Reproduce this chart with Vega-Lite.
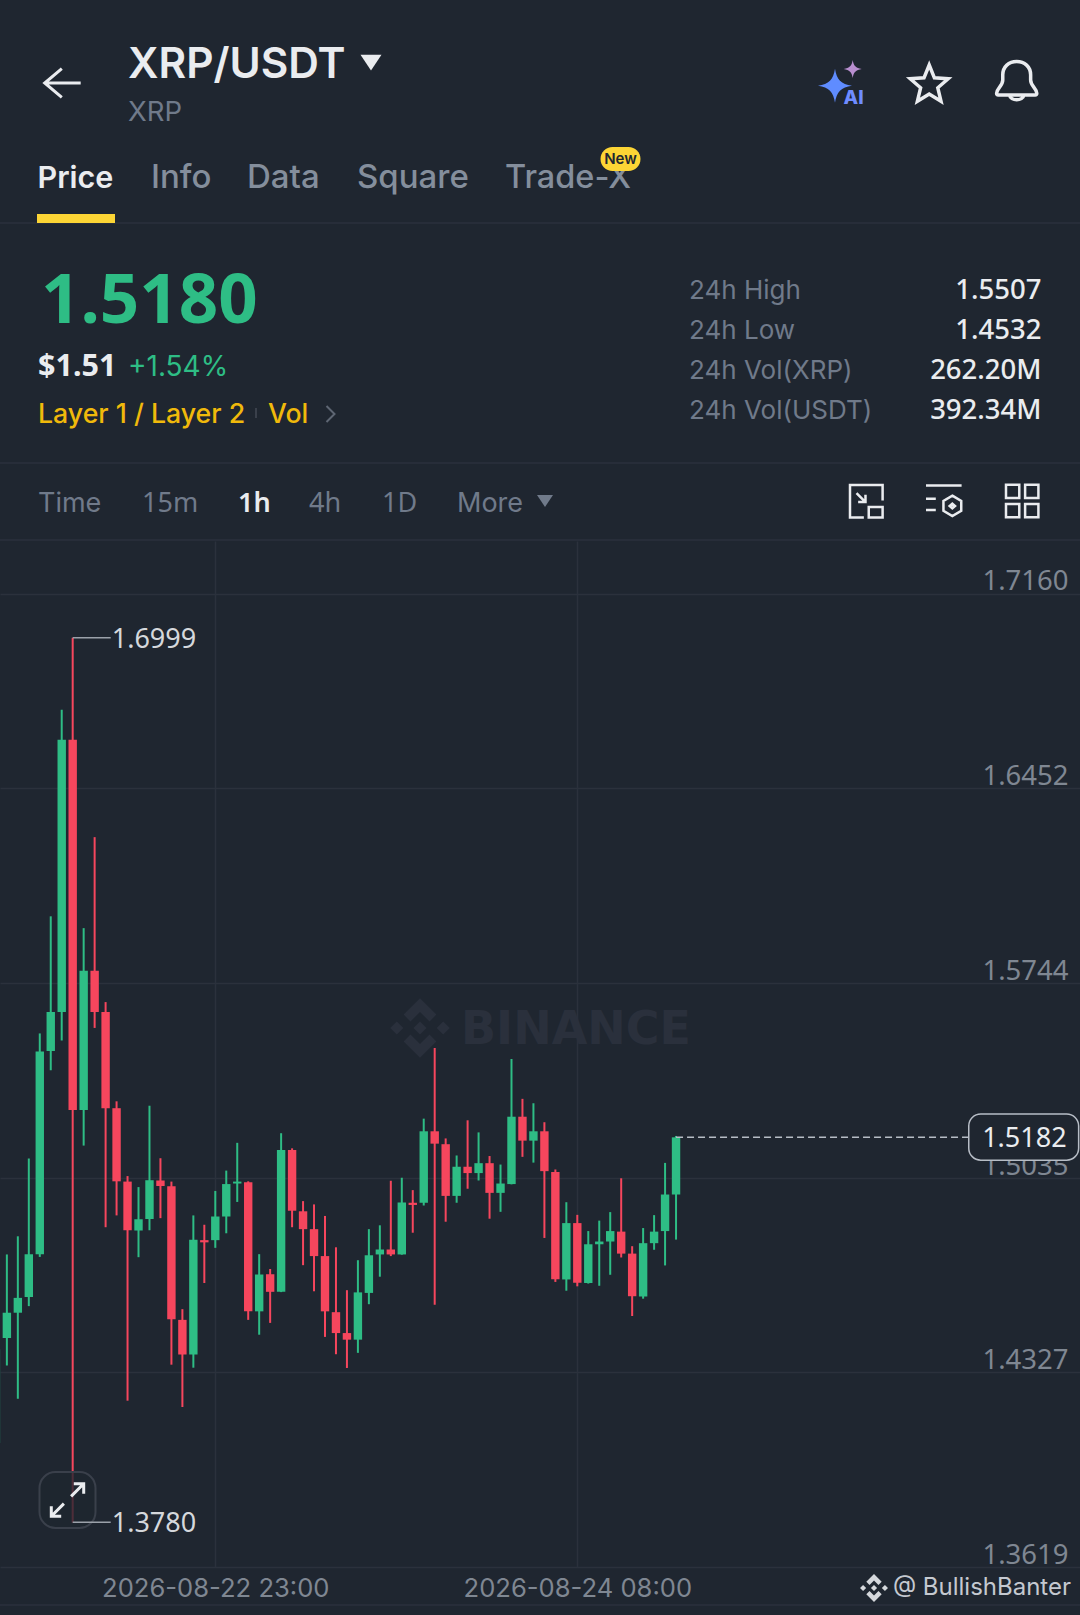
{
"$schema":"https://vega.github.io/schema/vega-lite/v6.json",
"width":1080,"height":1026,"autosize":"none","padding":{"top":541,"bottom":48,"left":0,"right":0},
"background":"#1f2630",
"config":{"view":{"stroke":null},"text":{"font":"Inter","baseline":"alphabetic","align":"left"},"point":{"opacity":1}},
"datasets":{
"candles":[
{"t":"2026-08-22T03:00:00Z","o":1.4069,"c":1.4411,"h":1.4452,"l":1.4069,"d":"up"},
{"t":"2026-08-22T04:00:00Z","o":1.4452,"c":1.4544,"h":1.4756,"l":1.4352,"d":"up"},
{"t":"2026-08-22T05:00:00Z","o":1.4544,"c":1.4598,"h":1.4822,"l":1.4231,"d":"up"},
{"t":"2026-08-22T06:00:00Z","o":1.4601,"c":1.4757,"h":1.5105,"l":1.4568,"d":"up"},
{"t":"2026-08-22T07:00:00Z","o":1.4757,"c":1.5494,"h":1.5560,"l":1.4747,"d":"up"},
{"t":"2026-08-22T08:00:00Z","o":1.5496,"c":1.5638,"h":1.5986,"l":1.5426,"d":"up"},
{"t":"2026-08-22T09:00:00Z","o":1.5638,"c":1.6628,"h":1.6737,"l":1.5534,"d":"up"},
{"t":"2026-08-22T10:00:00Z","o":1.6628,"c":1.5281,"h":1.6999,"l":1.3780,"d":"down"},
{"t":"2026-08-22T11:00:00Z","o":1.5281,"c":1.5788,"h":1.5943,"l":1.5152,"d":"up"},
{"t":"2026-08-22T12:00:00Z","o":1.5788,"c":1.5638,"h":1.6274,"l":1.5580,"d":"down"},
{"t":"2026-08-22T13:00:00Z","o":1.5638,"c":1.5288,"h":1.5674,"l":1.4855,"d":"down"},
{"t":"2026-08-22T14:00:00Z","o":1.5288,"c":1.5022,"h":1.5313,"l":1.4898,"d":"down"},
{"t":"2026-08-22T15:00:00Z","o":1.5021,"c":1.4844,"h":1.5041,"l":1.4224,"d":"down"},
{"t":"2026-08-22T16:00:00Z","o":1.4843,"c":1.4884,"h":1.5001,"l":1.4746,"d":"up"},
{"t":"2026-08-22T17:00:00Z","o":1.4885,"c":1.5026,"h":1.5297,"l":1.4844,"d":"up"},
{"t":"2026-08-22T18:00:00Z","o":1.5025,"c":1.5005,"h":1.5106,"l":1.4888,"d":"down"},
{"t":"2026-08-22T19:00:00Z","o":1.5004,"c":1.4520,"h":1.5021,"l":1.4355,"d":"down"},
{"t":"2026-08-22T20:00:00Z","o":1.4518,"c":1.4392,"h":1.4557,"l":1.4201,"d":"down"},
{"t":"2026-08-22T21:00:00Z","o":1.4392,"c":1.4809,"h":1.4898,"l":1.4344,"d":"up"},
{"t":"2026-08-22T22:00:00Z","o":1.4808,"c":1.4800,"h":1.4864,"l":1.4652,"d":"down"},
{"t":"2026-08-22T23:00:00Z","o":1.4808,"c":1.4894,"h":1.4987,"l":1.4780,"d":"up"},
{"t":"2026-08-23T00:00:00Z","o":1.4894,"c":1.5012,"h":1.5061,"l":1.4833,"d":"up"},
{"t":"2026-08-23T01:00:00Z","o":1.5014,"c":1.5021,"h":1.5162,"l":1.4947,"d":"up"},
{"t":"2026-08-23T02:00:00Z","o":1.5019,"c":1.4549,"h":1.5022,"l":1.4518,"d":"down"},
{"t":"2026-08-23T03:00:00Z","o":1.4549,"c":1.4683,"h":1.4757,"l":1.4464,"d":"up"},
{"t":"2026-08-23T04:00:00Z","o":1.4684,"c":1.4620,"h":1.4703,"l":1.4507,"d":"down"},
{"t":"2026-08-23T05:00:00Z","o":1.4620,"c":1.5136,"h":1.5197,"l":1.4619,"d":"up"},
{"t":"2026-08-23T06:00:00Z","o":1.5136,"c":1.4915,"h":1.5142,"l":1.4855,"d":"down"},
{"t":"2026-08-23T07:00:00Z","o":1.4913,"c":1.4848,"h":1.4950,"l":1.4717,"d":"down"},
{"t":"2026-08-23T08:00:00Z","o":1.4848,"c":1.4750,"h":1.4938,"l":1.4622,"d":"down"},
{"t":"2026-08-23T09:00:00Z","o":1.4750,"c":1.4549,"h":1.4896,"l":1.4456,"d":"down"},
{"t":"2026-08-23T10:00:00Z","o":1.4546,"c":1.4470,"h":1.4782,"l":1.4393,"d":"down"},
{"t":"2026-08-23T11:00:00Z","o":1.4470,"c":1.4446,"h":1.4626,"l":1.4343,"d":"down"},
{"t":"2026-08-23T12:00:00Z","o":1.4446,"c":1.4618,"h":1.4735,"l":1.4398,"d":"up"},
{"t":"2026-08-23T13:00:00Z","o":1.4616,"c":1.4753,"h":1.4848,"l":1.4575,"d":"up"},
{"t":"2026-08-23T14:00:00Z","o":1.4756,"c":1.4774,"h":1.4862,"l":1.4675,"d":"up"},
{"t":"2026-08-23T15:00:00Z","o":1.4774,"c":1.4756,"h":1.5024,"l":1.4750,"d":"down"},
{"t":"2026-08-23T16:00:00Z","o":1.4756,"c":1.4945,"h":1.5035,"l":1.4755,"d":"up"},
{"t":"2026-08-23T17:00:00Z","o":1.4944,"c":1.4936,"h":1.4990,"l":1.4835,"d":"down"},
{"t":"2026-08-23T18:00:00Z","o":1.4944,"c":1.5204,"h":1.5250,"l":1.4934,"d":"up"},
{"t":"2026-08-23T19:00:00Z","o":1.5204,"c":1.5159,"h":1.5507,"l":1.4573,"d":"down"},
{"t":"2026-08-23T20:00:00Z","o":1.5157,"c":1.4969,"h":1.5178,"l":1.4875,"d":"down"},
{"t":"2026-08-23T21:00:00Z","o":1.4969,"c":1.5075,"h":1.5116,"l":1.4944,"d":"up"},
{"t":"2026-08-23T22:00:00Z","o":1.5075,"c":1.5052,"h":1.5244,"l":1.4995,"d":"down"},
{"t":"2026-08-23T23:00:00Z","o":1.5052,"c":1.5088,"h":1.5200,"l":1.5025,"d":"up"},
{"t":"2026-08-24T00:00:00Z","o":1.5088,"c":1.4980,"h":1.5114,"l":1.4886,"d":"down"},
{"t":"2026-08-24T01:00:00Z","o":1.4980,"c":1.5014,"h":1.5083,"l":1.4911,"d":"up"},
{"t":"2026-08-24T02:00:00Z","o":1.5012,"c":1.5257,"h":1.5467,"l":1.5011,"d":"up"},
{"t":"2026-08-24T03:00:00Z","o":1.5257,"c":1.5170,"h":1.5322,"l":1.5111,"d":"down"},
{"t":"2026-08-24T04:00:00Z","o":1.5170,"c":1.5204,"h":1.5306,"l":1.5090,"d":"up"},
{"t":"2026-08-24T05:00:00Z","o":1.5204,"c":1.5059,"h":1.5237,"l":1.4816,"d":"down"},
{"t":"2026-08-24T06:00:00Z","o":1.5056,"c":1.4666,"h":1.5065,"l":1.4656,"d":"down"},
{"t":"2026-08-24T07:00:00Z","o":1.4665,"c":1.4870,"h":1.4946,"l":1.4624,"d":"up"},
{"t":"2026-08-24T08:00:00Z","o":1.4870,"c":1.4653,"h":1.4900,"l":1.4640,"d":"down"},
{"t":"2026-08-24T09:00:00Z","o":1.4652,"c":1.4793,"h":1.4841,"l":1.4650,"d":"up"},
{"t":"2026-08-24T10:00:00Z","o":1.4793,"c":1.4803,"h":1.4879,"l":1.4642,"d":"up"},
{"t":"2026-08-24T11:00:00Z","o":1.4803,"c":1.4841,"h":1.4910,"l":1.4682,"d":"up"},
{"t":"2026-08-24T12:00:00Z","o":1.4839,"c":1.4759,"h":1.5033,"l":1.4745,"d":"down"},
{"t":"2026-08-24T13:00:00Z","o":1.4759,"c":1.4604,"h":1.4786,"l":1.4532,"d":"down"},
{"t":"2026-08-24T14:00:00Z","o":1.4603,"c":1.4797,"h":1.4852,"l":1.4595,"d":"up"},
{"t":"2026-08-24T15:00:00Z","o":1.4797,"c":1.4839,"h":1.4899,"l":1.4773,"d":"up"},
{"t":"2026-08-24T16:00:00Z","o":1.4841,"c":1.4974,"h":1.5089,"l":1.4716,"d":"up"},
{"t":"2026-08-24T17:00:00Z","o":1.4974,"c":1.5182,"h":1.5187,"l":1.4810,"d":"up"}
],
"extremes":[
{"t":"2026-08-22T10:00:00Z","t2":"2026-08-22T13:28:00Z","p":1.6999,"label":"1.6999"},
{"t":"2026-08-22T10:00:00Z","t2":"2026-08-22T13:28:00Z","p":1.3782,"label":"1.3780"}
],
"last":[{"t":"2026-08-24T17:00:00Z","t1":"2026-08-25T19:41:00Z","t2":"2026-08-26T05:42:00Z","p":1.5182,"top":1.5267,"bottom":1.5099,"label":"1.5182"}],
"one":[{"n":1}]
},
"layer":[
{"data":{"name":"one"},"mark":{"type":"rule","color":"#2b313c","strokeWidth":1.5},"encoding":{"y":{"value":-318}}},
{"data":{"name":"one"},"mark":{"type":"rule","color":"#2b313c","strokeWidth":1.5},"encoding":{"y":{"value":-78}}},
{"data":{"name":"one"},"mark":{"type":"rule","color":"#2b313c","strokeWidth":1.5},"encoding":{"y":{"value":-1}}},
{"data":{"name":"one"},"mark":{"type":"rule","color":"#2b313c","strokeWidth":1.5},"encoding":{"y":{"value":1064}}},
{"data":{"values":[{"label":"BINANCE"}]},"mark":{"type":"text","font":"DejaVu Sans","fontWeight":700,"fontSize":46,"color":"#2a303c"},"encoding":{"text":{"field":"label"},"x":{"value":461},"y":{"value":503}}},
{"data":{"name":"one"},"mark":{"type":"point","filled":true,"color":"#2a303c","size":3540,"shape":"M0 -1L0.55 -0.45L0.32 -0.22L0 -0.54L-0.32 -0.22L-0.55 -0.45ZM0 1L0.55 0.45L0.32 0.22L0 0.54L-0.32 0.22L-0.55 0.45ZM0 -0.22L0.22 0L0 0.22L-0.22 0ZM-0.78 -0.22L-0.56 0L-0.78 0.22L-1 0ZM0.78 -0.22L1 0L0.78 0.22L0.56 0Z"},"encoding":{"x":{"value":420},"y":{"value":487}}},
{"data":{"name":"candles"},"mark":{"type":"rule","strokeWidth":2},
 "encoding":{
  "x":{"field":"t","type":"temporal","title":null,"scale":{"type":"utc","nice":false,"padding":0,"domain":[1787368946000,1787723367000]},
   "axis":{"values":[1787439600000,1787558400000],"format":"%Y-%m-%d %H:%M","domain":false,"ticks":false,"grid":true,"gridColor":"#2b313c","gridWidth":1.5,"labelFont":"Inter","labelFontSize":25.6,"labelColor":"#7f8792","labelPadding":21,"labelBaseline":"middle","labelOverlap":false,"labelFlush":false,"labelLimit":400,"title":null}},
  "y":{"field":"l","type":"quantitative","title":null,"scale":{"domain":[1.3619,1.73513],"zero":false,"nice":false},
   "axis":{"orient":"right","values":[1.716,1.6452,1.5744,1.5035,1.4327,1.3619],"format":".4f","domain":false,"ticks":false,"grid":true,"gridColor":"#2b313c","gridWidth":1.5,"labelFont":"Noto Sans","labelFontSize":27.5,"labelColor":"#7f8792","labelAlign":"right","labelPadding":-12,"labelBaseline":"alphabetic","labelOffset":-3.7,"labelOverlap":false,"labelFlush":false,"labelBound":false,"title":null}},
  "y2":{"field":"h"},
  "color":{"field":"d","type":"nominal","legend":null,"scale":{"domain":["up","down"],"range":["#2ebd85","#f6465d"]}}
 }},
{"data":{"name":"candles"},"mark":{"type":"bar","size":8.4,"orient":"vertical"},
 "encoding":{
  "x":{"field":"t","type":"temporal"},
  "y":{"field":"o","type":"quantitative"},"y2":{"field":"c"},
  "color":{"field":"d","type":"nominal","legend":null}
 }},
{"data":{"name":"one"},"mark":{"type":"rect","fill":"#1f2630","fillOpacity":0.78,"stroke":"#3a404b","strokeWidth":2,"cornerRadius":16},"encoding":{"x":{"value":39.5},"x2":{"value":95.5},"y":{"value":931},"y2":{"value":987}}},
{"data":{"name":"one"},"mark":{"type":"point","filled":false,"color":"#eaecef","strokeWidth":3,"size":1296,"shape":"M-0.9 0.9L-0.2 0.2M-0.9 0.35V0.9H-0.35M0.2 -0.2L0.9 -0.9M0.35 -0.9H0.9V-0.35"},"encoding":{"x":{"value":67.5},"y":{"value":959}}},
{"data":{"name":"extremes"},"mark":{"type":"rule","color":"#9ba1aa","strokeWidth":1.5},"encoding":{"x":{"field":"t","type":"temporal"},"x2":{"field":"t2"},"y":{"field":"p","type":"quantitative"}}},
{"data":{"name":"extremes"},"mark":{"type":"text","font":"Noto Sans","color":"#d5d8dc","fontSize":27,"baseline":"middle","dx":1,"dy":2},"encoding":{"x":{"field":"t2","type":"temporal"},"y":{"field":"p","type":"quantitative"},"text":{"field":"label"}}},
{"data":{"name":"last"},"mark":{"type":"rule","color":"#b7bdc6","strokeWidth":1.5,"strokeDash":[7,4]},"encoding":{"x":{"field":"t","type":"temporal"},"x2":{"field":"t1"},"y":{"field":"p","type":"quantitative"}}},
{"data":{"name":"last"},"mark":{"type":"rect","fill":"#1f2630","stroke":"#b7bdc6","strokeWidth":1.5,"cornerRadius":12},"encoding":{"x":{"field":"t1","type":"temporal"},"x2":{"field":"t2"},"y":{"field":"top","type":"quantitative"},"y2":{"field":"bottom"}}},
{"data":{"name":"last"},"mark":{"type":"text","font":"Noto Sans","color":"#eaecef","fontSize":27,"align":"right","baseline":"middle","dx":-12,"dy":2},"encoding":{"x":{"field":"t2","type":"temporal"},"y":{"field":"p","type":"quantitative"},"text":{"field":"label"}}},

{"data":{"name":"one"},"mark":{"type":"point","filled":false,"color":"#eaecef","strokeWidth":3,"size":1296,"shape":"M1 0H-1M-0.05 -0.8L-1 0L-0.05 0.8"},"encoding":{"x":{"value":62.7},"y":{"value":-458}}},
{"data":{"values":[{"label":"XRP/USDT"}]},"mark":{"type":"text","fontSize":42.4,"fontWeight":600,"color":"#eaecef"},"encoding":{"text":{"field":"label"},"x":{"value":128},"y":{"value":-463.5}}},
{"data":{"name":"one"},"mark":{"type":"point","filled":true,"color":"#eaecef","size":441,"shape":"M-1 -0.7H1L0 0.8Z"},"encoding":{"x":{"value":371},"y":{"value":-479}}},
{"data":{"values":[{"label":"XRP"}]},"mark":{"type":"text","fontSize":27.5,"color":"#707a8a"},"encoding":{"text":{"field":"label"},"x":{"value":128},"y":{"value":-420.5}}},
{"data":{"name":"one"},"mark":{"type":"point","filled":true,"color":"#5f8cff","size":1156,"shape":"M0 -1C0.1 -0.35 0.35 -0.1 1 0C0.35 0.1 0.1 0.35 0 1C-0.1 0.35 -0.35 0.1 -1 0C-0.35 -0.1 -0.1 -0.35 0 -1Z"},"encoding":{"x":{"value":835},"y":{"value":-455.3}}},
{"data":{"name":"one"},"mark":{"type":"point","filled":true,"color":"#b98fd0","size":324,"shape":"M0 -1C0.1 -0.35 0.35 -0.1 1 0C0.35 0.1 0.1 0.35 0 1C-0.1 0.35 -0.35 0.1 -1 0C-0.35 -0.1 -0.1 -0.35 0 -1Z"},"encoding":{"x":{"value":852.7},"y":{"value":-472}}},
{"data":{"values":[{"label":"AI"}]},"mark":{"type":"text","fontSize":19,"fontWeight":800,"color":"#6f8cff","align":"center","baseline":"middle"},"encoding":{"text":{"field":"label"},"x":{"value":853.6},"y":{"value":-443}}},
{"data":{"name":"one"},"mark":{"type":"point","filled":false,"color":"#eaecef","strokeWidth":3.5,"size":1600,"shape":"M0 -1L0.26 -0.36L0.95 -0.31L0.43 0.14L0.59 0.81L0 0.45L-0.59 0.81L-0.43 0.14L-0.95 -0.31L-0.26 -0.36Z"},"encoding":{"x":{"value":929.2},"y":{"value":-456}}},
{"data":{"name":"one"},"mark":{"type":"point","filled":false,"color":"#eaecef","strokeWidth":3.5,"size":1681,"shape":"M-0.98 0.6C-0.98 0.35 -0.68 0.25 -0.68 -0.05V-0.3C-0.68 -0.7 -0.38 -0.95 0 -0.95C0.38 -0.95 0.68 -0.7 0.68 -0.3V-0.05C0.68 0.25 0.98 0.35 0.98 0.6Q0.98 0.68 0.9 0.68H-0.9Q-0.98 0.68 -0.98 0.6ZM-0.35 0.68C-0.3 1 0.3 1 0.35 0.68"},"encoding":{"x":{"value":1016.7},"y":{"value":-460}}},

{"data":{"values":[{"label":"Price"}]},"mark":{"type":"text","fontSize":30.5,"fontWeight":600,"color":"#eaecef"},"encoding":{"text":{"field":"label"},"x":{"value":37.5},"y":{"value":-353}}},
{"data":{"values":[{"label":"Info"}]},"mark":{"type":"text","fontSize":33,"fontWeight":500,"color":"#848e9c"},"encoding":{"text":{"field":"label"},"x":{"value":151},"y":{"value":-353}}},
{"data":{"values":[{"label":"Data"}]},"mark":{"type":"text","fontSize":33,"fontWeight":500,"color":"#848e9c"},"encoding":{"text":{"field":"label"},"x":{"value":247},"y":{"value":-353}}},
{"data":{"values":[{"label":"Square"}]},"mark":{"type":"text","fontSize":33,"fontWeight":500,"color":"#848e9c"},"encoding":{"text":{"field":"label"},"x":{"value":357},"y":{"value":-353}}},
{"data":{"values":[{"label":"Trade-X"}]},"mark":{"type":"text","fontSize":32.5,"fontWeight":500,"color":"#848e9c"},"encoding":{"text":{"field":"label"},"x":{"value":505},"y":{"value":-353}}},
{"data":{"name":"one"},"mark":{"type":"rect","fill":"#fcd535"},"encoding":{"x":{"value":37},"x2":{"value":115},"y":{"value":-327},"y2":{"value":-318}}},
{"data":{"name":"one"},"mark":{"type":"rect","fill":"#fcd535","cornerRadius":12},"encoding":{"x":{"value":600.5},"x2":{"value":640.5},"y":{"value":-394},"y2":{"value":-370}}},
{"data":{"values":[{"label":"New"}]},"mark":{"type":"text","fontSize":15,"fontWeight":600,"color":"#202630","align":"center","baseline":"middle"},"encoding":{"text":{"field":"label"},"x":{"value":620.5},"y":{"value":-382}}},

{"data":{"values":[{"label":"1.5180"}]},"mark":{"type":"text","font":"Noto Sans","fontSize":69,"fontWeight":700,"color":"#2ebd85"},"encoding":{"text":{"field":"label"},"x":{"value":41},"y":{"value":-218}}},
{"data":{"values":[{"label":"$1.51"}]},"mark":{"type":"text","font":"Noto Sans","fontSize":30.5,"fontWeight":700,"color":"#eaecef"},"encoding":{"text":{"field":"label"},"x":{"value":38},"y":{"value":-165}}},
{"data":{"values":[{"label":"+1.54%"}]},"mark":{"type":"text","fontSize":28,"color":"#2ebd85"},"encoding":{"text":{"field":"label"},"x":{"value":128},"y":{"value":-165}}},
{"data":{"values":[{"label":"Layer 1 / Layer 2"}]},"mark":{"type":"text","fontSize":26.7,"fontWeight":500,"color":"#f0b90b"},"encoding":{"text":{"field":"label"},"x":{"value":38},"y":{"value":-118}}},
{"data":{"values":[{"label":"Vol"}]},"mark":{"type":"text","fontSize":26.7,"fontWeight":500,"color":"#f0b90b"},"encoding":{"text":{"field":"label"},"x":{"value":268},"y":{"value":-118}}},
{"data":{"name":"one"},"mark":{"type":"rule","color":"#3a404b","strokeWidth":2},"encoding":{"x":{"value":256},"y":{"value":-133},"y2":{"value":-123}}},
{"data":{"name":"one"},"mark":{"type":"point","filled":false,"color":"#5e6673","strokeWidth":2,"size":256,"shape":"M-0.5 -1L0.5 0L-0.5 1"},"encoding":{"x":{"value":330.5},"y":{"value":-127}}},

{"data":{"values":[{"label":"24h High"}]},"mark":{"type":"text","fontSize":26,"color":"#707a8a"},"encoding":{"text":{"field":"label"},"x":{"value":689},"y":{"value":-242}}},
{"data":{"values":[{"label":"24h Low"}]},"mark":{"type":"text","fontSize":26,"color":"#707a8a"},"encoding":{"text":{"field":"label"},"x":{"value":689},"y":{"value":-202}}},
{"data":{"values":[{"label":"24h Vol(XRP)"}]},"mark":{"type":"text","fontSize":26,"color":"#707a8a"},"encoding":{"text":{"field":"label"},"x":{"value":689},"y":{"value":-162}}},
{"data":{"values":[{"label":"24h Vol(USDT)"}]},"mark":{"type":"text","fontSize":26,"color":"#707a8a"},"encoding":{"text":{"field":"label"},"x":{"value":689},"y":{"value":-122}}},
{"data":{"values":[{"label":"1.5507"}]},"mark":{"type":"text","font":"Noto Sans","fontSize":27.5,"fontWeight":500,"color":"#eaecef","align":"right"},"encoding":{"text":{"field":"label"},"x":{"value":1041.5},"y":{"value":-242}}},
{"data":{"values":[{"label":"1.4532"}]},"mark":{"type":"text","font":"Noto Sans","fontSize":27.5,"fontWeight":500,"color":"#eaecef","align":"right"},"encoding":{"text":{"field":"label"},"x":{"value":1041.5},"y":{"value":-202}}},
{"data":{"values":[{"label":"262.20M"}]},"mark":{"type":"text","font":"Noto Sans","fontSize":27.5,"fontWeight":500,"color":"#eaecef","align":"right"},"encoding":{"text":{"field":"label"},"x":{"value":1041.5},"y":{"value":-162}}},
{"data":{"values":[{"label":"392.34M"}]},"mark":{"type":"text","font":"Noto Sans","fontSize":27.5,"fontWeight":500,"color":"#eaecef","align":"right"},"encoding":{"text":{"field":"label"},"x":{"value":1041.5},"y":{"value":-122}}},

{"data":{"values":[{"label":"Time"}]},"mark":{"type":"text","fontSize":27,"color":"#707a8a"},"encoding":{"text":{"field":"label"},"x":{"value":38},"y":{"value":-29}}},
{"data":{"values":[{"label":"15m"}]},"mark":{"type":"text","font":"Noto Sans","fontSize":27,"color":"#707a8a"},"encoding":{"text":{"field":"label"},"x":{"value":142},"y":{"value":-29}}},
{"data":{"values":[{"label":"1h"}]},"mark":{"type":"text","font":"Noto Sans","fontSize":27,"fontWeight":600,"color":"#eaecef"},"encoding":{"text":{"field":"label"},"x":{"value":238},"y":{"value":-29}}},
{"data":{"values":[{"label":"4h"}]},"mark":{"type":"text","font":"Noto Sans","fontSize":27,"color":"#707a8a"},"encoding":{"text":{"field":"label"},"x":{"value":309},"y":{"value":-29}}},
{"data":{"values":[{"label":"1D"}]},"mark":{"type":"text","font":"Noto Sans","fontSize":27,"color":"#707a8a"},"encoding":{"text":{"field":"label"},"x":{"value":382},"y":{"value":-29}}},
{"data":{"values":[{"label":"More"}]},"mark":{"type":"text","fontSize":27,"color":"#707a8a"},"encoding":{"text":{"field":"label"},"x":{"value":457},"y":{"value":-29}}},
{"data":{"name":"one"},"mark":{"type":"point","filled":true,"color":"#707a8a","size":256,"shape":"M-1 -0.7H1L0 0.8Z"},"encoding":{"x":{"value":545},"y":{"value":-40.5}}},
{"data":{"name":"one"},"mark":{"type":"point","filled":false,"color":"#eaecef","strokeWidth":2.5,"size":1063,"shape":"M1 -0.05V-1H-1V1H-0.15M0.15 0.35H1V1H0.15ZM-0.6 -0.5L-0.05 0.05M-0.05 -0.4V0.05H-0.5"},"encoding":{"x":{"value":866.3},"y":{"value":-39.8}}},
{"data":{"name":"one"},"mark":{"type":"point","filled":false,"color":"#eaecef","strokeWidth":2.5,"size":1267,"shape":"M-1 -0.87H1M-1 -0.12H-0.45M-1 0.5H-0.45M0.48 -0.3L0.98 0L0.98 0.55L0.48 0.85L-0.02 0.55L-0.02 0ZM0.48 0.15L0.63 0.28L0.48 0.41L0.33 0.28Z"},"encoding":{"x":{"value":943.8},"y":{"value":-40}}},
{"data":{"name":"one"},"mark":{"type":"point","filled":false,"color":"#eaecef","strokeWidth":2.5,"size":1050,"shape":"M-1 -1H-0.18V-0.18H-1ZM0.18 -1H1V-0.18H0.18ZM-1 0.18H-0.18V1H-1ZM0.18 0.18H1V1H0.18Z"},"encoding":{"x":{"value":1022.2},"y":{"value":-40}}},

{"data":{"name":"one"},"mark":{"type":"point","filled":true,"color":"#d5d8dc","size":784,"shape":"M0 -1L0.55 -0.45L0.32 -0.22L0 -0.54L-0.32 -0.22L-0.55 -0.45ZM0 1L0.55 0.45L0.32 0.22L0 0.54L-0.32 0.22L-0.55 0.45ZM0 -0.22L0.22 0L0 0.22L-0.22 0ZM-0.78 -0.22L-0.56 0L-0.78 0.22L-1 0ZM0.78 -0.22L1 0L0.78 0.22L0.56 0Z"},"encoding":{"x":{"value":874},"y":{"value":1047}}},
{"data":{"values":[{"label":"@ BullishBanter"}]},"mark":{"type":"text","fontSize":24,"color":"#c5c9d0","align":"right","baseline":"middle"},"encoding":{"text":{"field":"label"},"x":{"value":1071},"y":{"value":1047}}}
]
}
